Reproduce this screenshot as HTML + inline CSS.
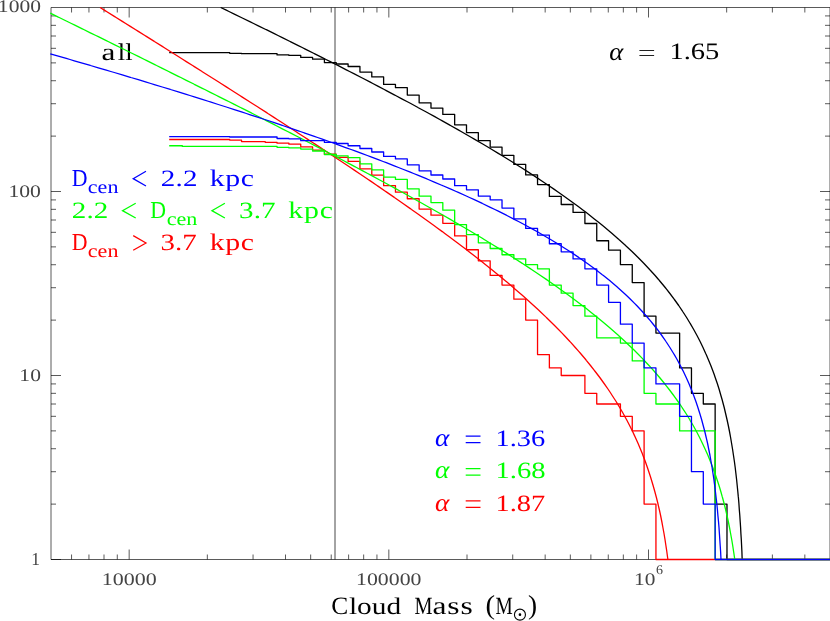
<!DOCTYPE html>
<html><head><meta charset="utf-8"><title>Cloud Mass</title>
<style>html,body{margin:0;padding:0;background:#fff}svg{display:block}text{font-family:"Liberation Serif",serif;text-rendering:geometricPrecision}</style>
</head><body>
<svg width="830" height="621" viewBox="0 0 830 621">
<rect width="830" height="621" fill="#fff"/>
<g fill="none" stroke="#000" stroke-width="0.65">
<path d="M51.00 7.50 H830.00 V559.50 H51.00 Z"/>
<path d="M71.56 559.50 V554.50 M71.56 7.50 V12.50 M88.94 559.50 V554.50 M88.94 7.50 V12.50 M104.00 559.50 V554.50 M104.00 7.50 V12.50 M117.29 559.50 V554.50 M117.29 7.50 V12.50 M129.17 559.50 V549.50 M129.17 7.50 V17.50 M207.33 559.50 V554.50 M207.33 7.50 V12.50 M253.06 559.50 V554.50 M253.06 7.50 V12.50 M285.50 559.50 V554.50 M285.50 7.50 V12.50 M310.67 559.50 V554.50 M310.67 7.50 V12.50 M331.23 559.50 V554.50 M331.23 7.50 V12.50 M348.61 559.50 V554.50 M348.61 7.50 V12.50 M363.67 559.50 V554.50 M363.67 7.50 V12.50 M376.95 559.50 V554.50 M376.95 7.50 V12.50 M388.83 559.50 V549.50 M388.83 7.50 V17.50 M467.00 559.50 V554.50 M467.00 7.50 V12.50 M512.73 559.50 V554.50 M512.73 7.50 V12.50 M545.17 559.50 V554.50 M545.17 7.50 V12.50 M570.33 559.50 V554.50 M570.33 7.50 V12.50 M590.89 559.50 V554.50 M590.89 7.50 V12.50 M608.28 559.50 V554.50 M608.28 7.50 V12.50 M623.34 559.50 V554.50 M623.34 7.50 V12.50 M636.62 559.50 V554.50 M636.62 7.50 V12.50 M648.50 559.50 V549.50 M648.50 7.50 V17.50 M726.67 559.50 V554.50 M726.67 7.50 V12.50 M772.39 559.50 V554.50 M772.39 7.50 V12.50 M804.84 559.50 V554.50 M804.84 7.50 V12.50 M51.00 504.11 H56.00 M830.00 504.11 H825.00 M51.00 471.71 H56.00 M830.00 471.71 H825.00 M51.00 448.72 H56.00 M830.00 448.72 H825.00 M51.00 430.89 H56.00 M830.00 430.89 H825.00 M51.00 416.32 H56.00 M830.00 416.32 H825.00 M51.00 404.00 H56.00 M830.00 404.00 H825.00 M51.00 393.33 H56.00 M830.00 393.33 H825.00 M51.00 383.92 H56.00 M830.00 383.92 H825.00 M51.00 375.50 H61.00 M830.00 375.50 H820.00 M51.00 320.11 H56.00 M830.00 320.11 H825.00 M51.00 287.71 H56.00 M830.00 287.71 H825.00 M51.00 264.72 H56.00 M830.00 264.72 H825.00 M51.00 246.89 H56.00 M830.00 246.89 H825.00 M51.00 232.32 H56.00 M830.00 232.32 H825.00 M51.00 220.00 H56.00 M830.00 220.00 H825.00 M51.00 209.33 H56.00 M830.00 209.33 H825.00 M51.00 199.92 H56.00 M830.00 199.92 H825.00 M51.00 191.50 H61.00 M830.00 191.50 H820.00 M51.00 136.11 H56.00 M830.00 136.11 H825.00 M51.00 103.71 H56.00 M830.00 103.71 H825.00 M51.00 80.72 H56.00 M830.00 80.72 H825.00 M51.00 62.89 H56.00 M830.00 62.89 H825.00 M51.00 48.32 H56.00 M830.00 48.32 H825.00 M51.00 36.00 H56.00 M830.00 36.00 H825.00 M51.00 25.33 H56.00 M830.00 25.33 H825.00 M51.00 15.92 H56.00 M830.00 15.92 H825.00 M51.00 559.50 H61.00"/>
</g>
<path d="M335 7.50 V559.50" stroke="#000" stroke-width="0.9" fill="none" opacity="0.8"/>
<g style="opacity:0.999">
<text transform="translate(-2.13 12.42) scale(1.2118 1)" font-size="17.78" fill="#444">1000</text>
<text transform="translate(8.46 196.82) scale(1.2188 1)" font-size="17.78" fill="#444">100</text>
<text transform="translate(19.36 380.82) scale(1.2145 1)" font-size="17.78" fill="#444">10</text>
<text transform="translate(31.32 565.00) scale(0.9606 1)" font-size="18.18" fill="#444">1</text>
<text transform="translate(101.83 584.62) scale(1.2361 1)" font-size="17.78" fill="#444">10000</text>
<text transform="translate(356.05 584.62) scale(1.2266 1)" font-size="17.78" fill="#444">100000</text>
<text transform="translate(633.98 584.62) scale(1.2017 1)" font-size="17.78" fill="#444">10</text>
<text transform="translate(655.94 573.77) scale(1.0677 1)" font-size="13.13" fill="#444">6</text>
<text transform="translate(101.51 59.96) scale(1.2931 1)" font-size="24.17" fill="#000">a</text>
<text transform="translate(117.77 59.90) scale(1.1091 1)" font-size="24.03" fill="#000">ll</text>
<text transform="translate(609.13 59.55) scale(1.0604 1)" font-size="25.21" fill="#000" font-style="italic">α</text>
<text transform="translate(669.38 59.45) scale(1.2111 1)" font-size="23.56" fill="#000">1.65</text>
<text transform="translate(331.28 614.35) scale(1.0126 1)" font-size="25.07" fill="#000">C</text>
<text transform="translate(348.91 614.36) scale(1.2391 1)" font-size="23.69" fill="#000">loud</text>
<text transform="translate(414.59 614.30) scale(0.8183 1)" font-size="24.73" fill="#000">M</text>
<text transform="translate(432.60 614.35) scale(1.2500 1)" font-size="25.21" fill="#000" letter-spacing="0.627">ass</text>
<text transform="translate(485.55 613.72) scale(1.0481 1)" font-size="27.36" fill="#000">(</text>
<text transform="translate(495.51 614.30) scale(0.7844 1)" font-size="24.73" fill="#000">M</text>
<text transform="translate(527.88 613.72) scale(0.9980 1)" font-size="27.36" fill="#000">)</text>
<text transform="translate(71.75 186.00) scale(0.8960 1)" font-size="24.35" fill="#00f">D</text>
<text transform="translate(87.83 192.71) scale(1.1884 1)" font-size="18.56" fill="#00f">cen</text>
<text transform="translate(160.74 185.85) scale(1.2500 1)" font-size="23.26" fill="#00f" letter-spacing="0.208">2.2</text>
<text transform="translate(209.85 185.99) scale(1.2500 1)" font-size="23.87" fill="#00f" letter-spacing="0.453">kpc</text>
<text transform="translate(71.75 250.30) scale(0.8960 1)" font-size="24.35" fill="#f00">D</text>
<text transform="translate(87.83 257.01) scale(1.1884 1)" font-size="18.56" fill="#f00">cen</text>
<text transform="translate(160.60 250.15) scale(1.2424 1)" font-size="23.26" fill="#f00">3.7</text>
<text transform="translate(209.85 250.29) scale(1.2500 1)" font-size="23.87" fill="#f00" letter-spacing="0.453">kpc</text>
<text transform="translate(71.74 217.85) scale(1.2500 1)" font-size="23.26" fill="#0f0" letter-spacing="0.128">2.2</text>
<text transform="translate(150.25 218.00) scale(0.8960 1)" font-size="24.35" fill="#0f0">D</text>
<text transform="translate(166.73 224.71) scale(1.1924 1)" font-size="18.56" fill="#0f0">cen</text>
<text transform="translate(239.09 217.85) scale(1.2500 1)" font-size="23.26" fill="#0f0" letter-spacing="0.077">3.7</text>
<text transform="translate(288.35 217.99) scale(1.2500 1)" font-size="23.87" fill="#0f0" letter-spacing="0.613">kpc</text>
<text transform="translate(435.02 446.05) scale(1.0833 1)" font-size="25.21" fill="#00f" font-style="italic">α</text>
<text transform="translate(495.48 445.85) scale(1.2089 1)" font-size="23.56" fill="#00f">1.36</text>
<text transform="translate(435.02 478.45) scale(1.0833 1)" font-size="25.21" fill="#0f0" font-style="italic">α</text>
<text transform="translate(495.46 478.25) scale(1.2253 1)" font-size="23.38" fill="#0f0">1.68</text>
<text transform="translate(435.02 510.75) scale(1.0833 1)" font-size="25.21" fill="#f00" font-style="italic">α</text>
<text transform="translate(495.48 510.55) scale(1.2178 1)" font-size="23.38" fill="#f00">1.87</text>
<path d="M146.00 171.30 L133.20 178.65 L146.00 186.00" fill="none" stroke="#00f" stroke-width="1.25"/>
<path d="M135.70 203.30 L122.50 210.65 L135.70 218.00" fill="none" stroke="#0f0" stroke-width="1.25"/>
<path d="M224.90 203.30 L211.90 210.65 L224.90 218.00" fill="none" stroke="#0f0" stroke-width="1.25"/>
<path d="M133.20 235.60 L146.00 242.95 L133.20 250.30" fill="none" stroke="#f00" stroke-width="1.25"/>
<path d="M465.7 436.20 H480.5 M465.7 442.60 H480.5" stroke="#00f" stroke-width="1.25" fill="none"/>
<path d="M465.7 468.60 H480.5 M465.7 475.00 H480.5" stroke="#0f0" stroke-width="1.25" fill="none"/>
<path d="M465.7 500.90 H480.5 M465.7 507.30 H480.5" stroke="#f00" stroke-width="1.25" fill="none"/>
<path d="M639.4 50.5 H654.1 M639.4 55.5 H654.1" stroke="#222" stroke-width="1.2" fill="none"/>
<circle cx="519.95" cy="614.65" r="5.5" fill="none" stroke="#000" stroke-width="1.1"/><circle cx="519.95" cy="614.65" r="1.3" fill="#000"/>
</g>
<g fill="none" stroke-width="1.30" stroke-linejoin="round">
<path stroke="#000" d="M169.20 52.70 229.70 52.70 229.70 53.30 241.54 53.30 241.54 53.70 277.06 53.70 277.06 54.90 288.90 54.90 288.90 55.40 300.74 55.40 300.74 57.40 312.58 57.40 312.58 59.20 324.42 59.20 324.42 62.70 336.26 62.70 336.26 64.00 348.10 64.00 348.10 66.50 359.94 66.50 359.94 72.10 371.78 72.10 371.78 76.90 383.62 76.90 383.62 84.40 395.46 84.40 395.46 87.70 407.30 87.70 407.30 95.10 419.14 95.10 419.14 102.80 430.98 102.80 430.98 108.10 442.82 108.10 442.82 114.40 454.66 114.40 454.66 124.85 466.50 124.85 466.50 132.70 478.34 132.70 478.34 140.60 490.18 140.60 490.18 147.15 502.02 147.15 502.02 155.30 513.86 155.30 513.86 164.40 525.70 164.40 525.70 174.96 537.54 174.96 537.54 184.61 549.38 184.61 549.38 196.44 561.22 196.44 561.22 204.49 573.06 204.49 573.06 212.39 584.90 212.39 584.90 223.50 596.74 223.50 596.74 240.74 608.58 240.74 608.58 250.15 620.42 250.15 620.42 264.72 632.26 264.72 632.26 282.55 644.10 282.55 644.10 316.21 655.94 316.21 655.94 333.10 679.62 333.10 679.62 367.88 691.46 367.88 691.46 393.33 703.30 393.33 703.30 404.00 715.14 404.00 715.14 504.11 726.98 504.11 726.98 559.50 830.00 559.50"/>
<path stroke="#000" d="M220.7 7.5 226.3 10.2 229.0 11.5 234.3 14.1 241.3 17.5 242.3 18.0 250.3 21.9 253.6 23.5 258.3 25.8 265.8 29.5 266.3 29.7 274.3 33.7 278.0 35.5 282.3 37.6 290.1 41.5 290.3 41.6 298.3 45.6 302.2 47.5 306.3 49.6 314.1 53.5 314.3 53.6 322.3 57.6 326.0 59.5 330.3 61.7 337.9 65.5 338.3 65.7 346.3 69.8 349.6 71.5 354.3 73.9 361.3 77.5 362.3 78.0 370.3 82.2 372.8 83.5 378.3 86.4 384.3 89.5 386.3 90.6 394.3 94.8 395.6 95.5 402.3 99.1 406.9 101.5 410.3 103.3 418.0 107.5 418.3 107.7 426.3 112.0 429.0 113.5 434.3 116.4 439.8 119.5 442.3 120.9 450.3 125.4 450.5 125.5 458.3 129.9 461.1 131.5 466.3 134.5 471.5 137.5 474.3 139.1 481.8 143.5 482.3 143.8 490.3 148.5 491.9 149.5 498.3 153.4 501.8 155.5 506.3 158.2 511.6 161.5 514.3 163.2 521.1 167.5 522.3 168.3 530.3 173.4 530.5 173.5 538.3 178.6 539.6 179.5 546.3 184.0 548.6 185.5 554.3 189.4 557.3 191.5 562.3 195.0 565.8 197.5 570.3 200.7 574.1 203.5 578.3 206.6 582.2 209.5 586.3 212.6 590.0 215.5 594.3 218.9 597.6 221.5 602.3 225.3 605.0 227.5 610.3 232.0 612.1 233.5 618.3 238.9 618.9 239.5 625.6 245.5 626.3 246.2 632.0 251.5 634.3 253.8 638.1 257.5 642.3 261.8 644.0 263.5 649.6 269.5 650.3 270.2 655.1 275.5 658.3 279.2 660.2 281.5 665.2 287.5 666.3 288.9 669.9 293.5 674.3 299.4 674.4 299.5 678.7 305.5 682.3 310.8 682.7 311.5 686.6 317.5 690.2 323.5 690.3 323.6 693.7 329.5 697.0 335.5 698.3 338.0 700.1 341.5 703.0 347.5 705.7 353.5 706.3 354.7 708.3 359.5 710.8 365.5 713.1 371.5 714.3 374.8 715.2 377.5 717.3 383.5 719.2 389.5 720.9 395.5 722.3 400.3 722.6 401.5 724.2 407.5 725.6 413.5 727.0 419.5 728.3 425.5 729.5 431.5 730.3 435.8 730.6 437.5 731.6 443.5 732.6 449.5 733.5 455.5 734.4 461.5 735.2 467.5 735.9 473.5 736.6 479.5 737.2 485.5 737.8 491.5 738.3 496.9 738.4 497.5 738.9 503.5 739.3 509.5 739.8 515.5 740.2 521.5 740.6 527.5 740.9 533.5 741.3 539.5 741.6 545.5 741.9 551.5 742.1 557.5 742.2 559.5"/>
<path stroke="#f00" d="M169.20 139.50 229.70 139.50 229.70 140.10 241.54 140.10 241.54 141.60 265.22 141.60 265.22 142.30 277.06 142.30 277.06 143.20 288.90 143.20 288.90 144.20 300.74 144.20 300.74 146.80 312.58 146.80 312.58 150.20 324.42 150.20 324.42 154.20 336.26 154.20 336.26 157.30 348.10 157.30 348.10 161.45 359.94 161.45 359.94 168.95 371.78 168.95 371.78 175.20 383.62 175.20 383.62 185.70 395.46 185.70 395.46 192.20 407.30 192.20 407.30 198.75 419.14 198.75 419.14 209.10 430.98 209.10 430.98 215.20 442.82 215.20 442.82 223.30 454.66 223.30 454.66 235.90 466.50 235.90 466.50 249.75 478.34 249.75 478.34 260.82 490.18 260.82 490.18 275.39 502.02 275.39 502.02 285.09 513.86 285.09 513.86 299.14 525.70 299.14 525.70 320.11 537.54 320.11 537.54 354.53 549.38 354.53 549.38 367.88 561.22 367.88 561.22 375.50 584.90 375.50 584.90 393.33 596.74 393.33 596.74 404.00 620.42 404.00 620.42 416.32 632.26 416.32 632.26 430.89 644.10 430.89 644.10 504.11 655.94 504.11 655.94 559.50 830.00 559.50"/>
<path stroke="#f00" d="M100.1 7.5 106.3 11.4 106.5 11.5 114.3 16.4 116.1 17.5 122.3 21.4 125.7 23.5 130.3 26.4 135.3 29.5 138.3 31.4 144.9 35.5 146.3 36.4 154.3 41.4 154.4 41.5 162.3 46.4 164.0 47.5 170.3 51.5 173.5 53.5 178.3 56.5 183.0 59.5 186.3 61.6 192.6 65.5 194.3 66.6 202.1 71.5 202.3 71.7 210.3 76.7 211.5 77.5 218.3 81.8 221.0 83.5 226.3 86.9 230.4 89.5 234.3 92.0 239.8 95.5 242.3 97.1 249.2 101.5 250.3 102.2 258.3 107.3 258.6 107.5 266.3 112.4 267.9 113.5 274.3 117.6 277.2 119.5 282.3 122.8 286.5 125.5 290.3 128.0 295.8 131.5 298.3 133.2 305.0 137.5 306.3 138.4 314.1 143.5 314.3 143.6 322.3 148.9 323.3 149.5 330.3 154.1 332.3 155.5 338.3 159.5 341.4 161.5 346.3 164.8 350.4 167.5 354.3 170.1 359.3 173.5 362.3 175.5 368.2 179.5 370.3 180.9 377.0 185.5 378.3 186.4 385.7 191.5 386.3 191.9 394.3 197.4 394.4 197.5 402.3 203.0 403.0 203.5 410.3 208.6 411.5 209.5 418.3 214.3 420.0 215.5 426.3 220.0 428.4 221.5 434.3 225.8 436.6 227.5 442.3 231.6 444.8 233.5 450.3 237.6 452.9 239.5 458.3 243.6 460.9 245.5 466.3 249.6 468.7 251.5 474.3 255.8 476.5 257.5 482.3 262.1 484.1 263.5 490.3 268.5 491.6 269.5 498.3 275.0 499.0 275.5 506.2 281.5 506.3 281.6 513.3 287.5 514.3 288.4 520.2 293.5 522.3 295.3 527.0 299.5 530.3 302.5 533.6 305.5 538.3 309.8 540.1 311.5 546.3 317.4 546.4 317.5 552.5 323.5 554.3 325.3 558.5 329.5 562.3 333.4 564.3 335.5 569.9 341.5 570.3 341.9 575.3 347.5 578.3 350.9 580.6 353.5 585.7 359.5 586.3 360.3 590.5 365.5 594.3 370.3 595.2 371.5 599.8 377.5 602.3 381.0 604.1 383.5 608.3 389.5 610.3 392.5 612.2 395.5 616.1 401.5 618.3 405.2 619.7 407.5 623.2 413.5 626.3 419.2 626.5 419.5 629.6 425.5 632.6 431.5 634.3 435.1 635.4 437.5 638.1 443.5 640.6 449.5 642.3 453.6 643.0 455.5 645.3 461.5 647.4 467.5 649.4 473.5 650.3 476.2 651.3 479.5 653.1 485.5 654.8 491.5 656.4 497.5 657.9 503.5 658.3 505.3 659.3 509.5 660.6 515.5 661.8 521.5 662.9 527.5 664.0 533.5 665.0 539.5 665.9 545.5 666.3 548.1 666.8 551.5 667.6 557.5 667.9 559.5"/>
<path stroke="#0f0" d="M169.20 145.75 182.34 145.75 182.34 146.40 277.06 146.40 277.06 147.30 288.90 147.30 288.90 147.90 300.74 147.90 300.74 149.10 312.58 149.10 312.58 151.00 324.42 151.00 324.42 154.50 336.26 154.50 336.26 155.80 348.10 155.80 348.10 157.65 359.94 157.65 359.94 163.85 371.78 163.85 371.78 169.90 383.62 169.90 383.62 177.10 395.46 177.10 395.46 179.40 407.30 179.40 407.30 188.80 419.14 188.80 419.14 196.15 430.98 196.15 430.98 202.55 442.82 202.55 442.82 210.20 454.66 210.20 454.66 224.60 466.50 224.60 466.50 234.60 478.34 234.60 478.34 242.80 490.18 242.80 490.18 248.50 502.02 248.50 502.02 254.75 513.86 254.75 513.86 258.94 525.70 258.94 525.70 264.72 537.54 264.72 537.54 268.82 549.38 268.82 549.38 285.09 561.22 285.09 561.22 293.22 573.06 293.22 573.06 305.54 584.90 305.54 584.90 316.21 596.74 316.21 596.74 337.94 620.42 337.94 620.42 343.10 632.26 343.10 632.26 360.93 644.10 360.93 644.10 393.33 655.94 393.33 655.94 404.00 679.62 404.00 679.62 430.89 715.14 430.89 715.14 559.50 830.00 559.50"/>
<path stroke="#0f0" d="M50.3 13.2 58.3 17.1 59.2 17.5 66.3 21.0 71.4 23.5 74.3 24.9 82.3 28.8 83.7 29.5 90.3 32.8 95.9 35.5 98.3 36.7 106.3 40.6 108.1 41.5 114.3 44.6 120.2 47.5 122.3 48.5 130.3 52.5 132.4 53.5 138.3 56.4 144.5 59.5 146.3 60.4 154.3 64.3 156.6 65.5 162.3 68.3 168.7 71.5 170.3 72.3 178.3 76.3 180.8 77.5 186.3 80.3 192.8 83.5 194.3 84.3 202.3 88.3 204.8 89.5 210.3 92.3 216.7 95.5 218.3 96.3 226.3 100.3 228.7 101.5 234.3 104.3 240.5 107.5 242.3 108.4 250.3 112.4 252.4 113.5 258.3 116.5 264.2 119.5 266.3 120.6 274.3 124.7 275.9 125.5 282.3 128.8 287.6 131.5 290.3 132.9 298.3 137.0 299.3 137.5 306.3 141.1 310.8 143.5 314.3 145.3 322.3 149.5 322.4 149.5 330.3 153.7 333.8 155.5 338.3 157.9 345.2 161.5 346.3 162.1 354.3 166.3 356.5 167.5 362.3 170.6 367.7 173.5 370.3 174.9 378.3 179.2 378.8 179.5 386.3 183.5 389.9 185.5 394.3 187.9 400.8 191.5 402.3 192.3 410.3 196.7 411.7 197.5 418.3 201.2 422.4 203.5 426.3 205.7 433.0 209.5 434.3 210.2 442.3 214.8 443.6 215.5 450.3 219.4 453.9 221.5 458.3 224.1 464.2 227.5 466.3 228.8 474.3 233.5 474.3 233.5 482.3 238.3 484.2 239.5 490.3 243.2 494.0 245.5 498.3 248.1 503.7 251.5 506.3 253.1 513.2 257.5 514.3 258.2 522.3 263.4 522.5 263.5 530.3 268.6 531.6 269.5 538.3 274.0 540.5 275.5 546.3 279.4 549.3 281.5 554.3 285.0 557.8 287.5 562.3 290.7 566.2 293.5 570.3 296.5 574.3 299.5 578.3 302.5 582.2 305.5 586.3 308.6 589.9 311.5 594.3 315.0 597.4 317.5 602.3 321.5 604.7 323.5 610.3 328.3 611.7 329.5 618.3 335.3 618.5 335.5 625.1 341.5 626.3 342.7 631.4 347.5 634.3 350.3 637.5 353.5 642.3 358.4 643.3 359.5 649.0 365.5 650.3 366.9 654.4 371.5 658.3 376.0 659.6 377.5 664.5 383.5 666.3 385.8 669.2 389.5 673.7 395.5 674.3 396.3 678.0 401.5 682.1 407.5 682.3 407.8 686.0 413.5 689.7 419.5 690.3 420.6 693.2 425.5 696.5 431.5 698.3 435.0 699.6 437.5 702.5 443.5 705.3 449.5 706.3 451.7 708.0 455.5 710.4 461.5 712.8 467.5 714.3 471.7 715.0 473.5 717.0 479.5 719.0 485.5 720.8 491.5 722.3 496.9 722.5 497.5 724.1 503.5 725.6 509.5 727.0 515.5 728.3 521.5 729.5 527.5 730.3 531.8 730.6 533.5 731.7 539.5 732.7 545.5 733.6 551.5 734.5 557.5 734.7 559.5"/>
<path stroke="#00f" d="M169.20 136.70 229.70 136.70 229.70 137.00 277.06 137.00 277.06 138.50 288.90 138.50 288.90 138.80 300.74 138.80 300.74 140.70 324.42 140.70 324.42 142.40 336.26 142.40 336.26 143.50 348.10 143.50 348.10 145.75 359.94 145.75 359.94 148.50 371.78 148.50 371.78 152.00 383.62 152.00 383.62 156.40 395.46 156.40 395.46 158.90 407.30 158.90 407.30 164.80 419.14 164.80 419.14 170.80 430.98 170.80 430.98 175.00 442.82 175.00 442.82 179.00 454.66 179.00 454.66 185.70 466.50 185.70 466.50 189.80 478.34 189.80 478.34 196.10 490.18 196.10 490.18 199.80 502.02 199.80 502.02 208.10 513.86 208.10 513.86 218.87 525.70 218.87 525.70 228.42 537.54 228.42 537.54 235.03 549.38 235.03 549.38 243.76 561.22 243.76 561.22 251.83 573.06 251.83 573.06 258.94 584.90 258.94 584.90 268.82 596.74 268.82 596.74 285.09 608.58 285.09 608.58 302.28 620.42 302.28 620.42 324.21 632.26 324.21 632.26 343.10 644.10 343.10 644.10 367.88 655.94 367.88 655.94 383.92 679.62 383.92 679.62 416.32 691.46 416.32 691.46 471.71 703.30 471.71 703.30 504.11 715.14 504.11 715.14 559.50 830.00 559.50"/>
<path stroke="#00f" d="M50.3 53.8 58.3 56.1 66.3 58.4 70.0 59.5 74.3 60.8 82.3 63.1 90.3 65.4 90.5 65.5 98.3 67.8 106.3 70.2 110.8 71.5 114.3 72.5 122.3 74.9 130.3 77.3 130.9 77.5 138.3 79.7 146.3 82.1 150.8 83.5 154.3 84.6 162.3 87.0 170.3 89.4 170.5 89.5 178.3 91.9 186.3 94.4 189.9 95.5 194.3 96.9 202.3 99.4 209.0 101.5 210.3 101.9 218.3 104.5 226.3 107.0 227.8 107.5 234.3 109.6 242.3 112.2 246.4 113.5 250.3 114.8 258.3 117.4 264.7 119.5 266.3 120.0 274.3 122.7 282.3 125.4 282.6 125.5 290.3 128.1 298.3 130.8 300.3 131.5 306.3 133.6 314.3 136.4 317.6 137.5 322.3 139.2 330.3 142.0 334.5 143.5 338.3 144.9 346.3 147.8 351.1 149.5 354.3 150.7 362.3 153.6 367.3 155.5 370.3 156.6 378.3 159.7 383.1 161.5 386.3 162.7 394.3 165.8 398.5 167.5 402.3 169.0 410.3 172.2 413.6 173.5 418.3 175.4 426.3 178.7 428.2 179.5 434.3 182.1 442.3 185.5 442.4 185.5 450.3 188.9 456.2 191.5 458.3 192.4 466.3 196.0 469.5 197.5 474.3 199.7 482.3 203.4 482.4 203.5 490.3 207.3 494.9 209.5 498.3 211.2 506.3 215.2 506.9 215.5 514.3 219.3 518.5 221.5 522.3 223.5 529.6 227.5 530.3 227.9 538.3 232.3 540.3 233.5 546.3 237.0 550.6 239.5 554.3 241.7 560.4 245.5 562.3 246.7 569.9 251.5 570.3 251.8 578.3 257.1 578.8 257.5 586.3 262.7 587.4 263.5 594.3 268.5 595.6 269.5 602.3 274.7 603.4 275.5 610.3 281.1 610.8 281.5 617.8 287.5 618.3 288.0 624.4 293.5 626.3 295.3 630.7 299.5 634.3 303.1 636.7 305.5 642.3 311.5 642.3 311.5 647.6 317.5 650.3 320.7 652.6 323.5 657.4 329.5 658.3 330.7 661.8 335.5 666.0 341.5 666.3 342.0 669.9 347.5 673.6 353.5 674.3 354.7 677.1 359.5 680.3 365.5 682.3 369.4 683.4 371.5 686.2 377.5 688.9 383.5 690.3 386.9 691.4 389.5 693.7 395.5 695.9 401.5 697.9 407.5 698.3 408.7 699.8 413.5 701.6 419.5 703.2 425.5 704.8 431.5 706.2 437.5 706.3 437.9 707.6 443.5 708.8 449.5 710.0 455.5 711.0 461.5 712.1 467.5 713.0 473.5 713.9 479.5 714.3 482.7 714.7 485.5 715.4 491.5 716.1 497.5 716.8 503.5 717.4 509.5 717.9 515.5 718.5 521.5 719.0 527.5 719.4 533.5 719.8 539.5 720.2 545.5 720.6 551.5 720.9 557.5 721.0 559.5"/>
</g>
</svg>
</body></html>
